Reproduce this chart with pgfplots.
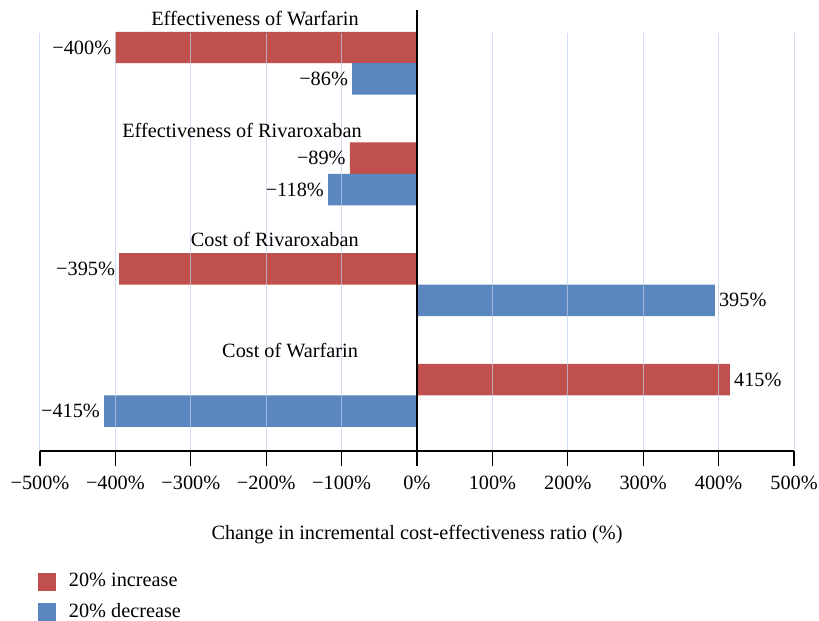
\documentclass[border=0pt]{standalone}
\usepackage{fontspec}
\setmainfont{Liberation Serif}
\usepackage{pgfplots}
\pgfplotsset{compat=1.18}
\definecolor{cred}{RGB}{192,80,77}
\definecolor{cblue}{RGB}{91,135,193}
\definecolor{cgrid}{RGB}{190,206,238}
\begin{document}
\fontsize{15.2}{18}\selectfont
\begin{tikzpicture}
\begin{axis}[
  scale only axis, width=565.5pt, height=330.75pt,
  at={(0,0)}, anchor=south west,
  xmin=-500, xmax=500, ymin=-0.503, ymax=3.481,
  axis x line*=bottom, axis y line*=center,
  axis line style={black, line width=1pt},
  xtick={-500,-400,...,500},
  xticklabels={−500\%,−400\%,−300\%,−200\%,−100\%,0\%,100\%,200\%,300\%,400\%,500\%},
  xticklabel style={yshift=-2pt},
  ytick=\empty,
  xtick align=outside, major tick length=11.25pt,
  xtick style={black, line width=1pt},
  axis on top, clip=false,
  point meta=explicit symbolic,
  nodes near coords,
  visualization depends on={value \thisrow{anc} \as \anc},
  every node near coord/.append style={inner sep=3pt, black, anchor=\anc},
  legend style={at={(axis description cs:0,0)}, anchor=north west, xshift=-1.5pt, yshift=-89.5pt,
    draw=none, fill=none, inner sep=0pt, row sep=6.5pt, cells={anchor=west},
    /tikz/every odd column/.style={column sep=7.5pt}},
  legend cell align=left,
  legend image code/.code={\fill[#1] (0pt,-6.75pt) rectangle (13.5pt,6.75pt);},
]
\addplot[xbar, bar width=23.6pt, bar shift=11.8pt, fill=cred, draw=none,
  every node near coord/.append style={yshift=11.8pt}]
  table[x=x, y=y, meta=lab] {
x y lab anc
-400 3 −400\% east
-89 2 −89\% east
-395 1 −395\% east
415 0 415\% west
};
\addlegendentry{20\% increase}
\addplot[xbar, bar width=23.6pt, bar shift=-11.8pt, fill=cblue, draw=none,
  every node near coord/.append style={yshift=-11.8pt}]
  table[x=x, y=y, meta=lab] {
x y lab anc
-86 3 −86\% east
-118 2 −118\% east
395 1 395\% west
-415 0 −415\% east
};
\addlegendentry{20\% decrease}
\pgfplotsinvokeforeach{-500,-400,...,500}{
  \draw[cgrid, opacity=0.7, line width=0.75pt] (axis cs:#1,-0.503) -- (axis cs:#1,3.274);
}
\node[anchor=base east, inner sep=0pt] at (axis cs:-77,3.344) {Effectiveness of Warfarin};
\node[anchor=base east, inner sep=0pt] at (axis cs:-73,2.33) {Effectiveness of Rivaroxaban};
\node[anchor=base east, inner sep=0pt] at (axis cs:-77,1.344) {Cost of Rivaroxaban};
\node[anchor=base east, inner sep=0pt] at (axis cs:-78,0.344) {Cost of Warfarin};
\node[anchor=base, yshift=-66.75pt] at (axis cs:0,-0.503) {Change in incremental cost-effectiveness ratio (\%)};
\end{axis}
\pgfresetboundingbox
\path[use as bounding box] (-30pt,-127.5pt) rectangle (584.25pt,338.25pt);
\end{tikzpicture}
\end{document}
